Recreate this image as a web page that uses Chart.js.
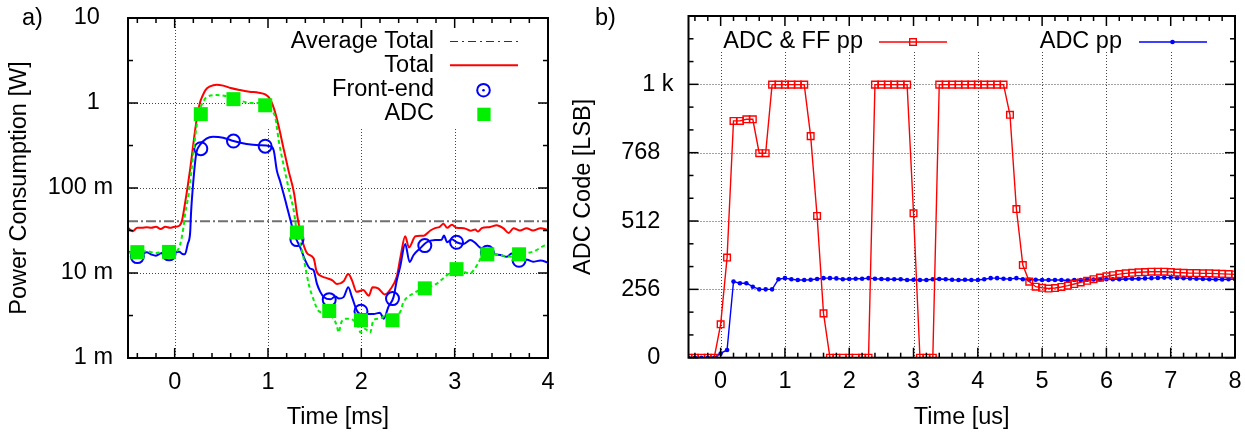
<!DOCTYPE html>
<html>
<head>
<meta charset="utf-8">
<script src="https://cdn.jsdelivr.net/npm/chart.js@4.4.1/dist/chart.umd.min.js"></script>
<style>
  html, body { margin: 0; padding: 0; background: #fff; }
  #wrap { position: relative; width: 1245px; height: 432px; overflow: hidden; background: #fff; }
  #ca { position: absolute; left: 0; top: 0; }
  #cb { position: absolute; left: 565px; top: 0; }
</style>
</head>
<body>
<div id="wrap">
  <canvas id="ca" width="565" height="432"></canvas>
  <canvas id="cb" width="680" height="432"></canvas>
</div>
<script>
// ---------- a) power consumption over time [ms], W on a log axis ----------
const avgTotalPower = 0.0405;

const totalTime = [-0.5,-0.45,-0.4,-0.35,-0.3,-0.25,-0.2,-0.15,-0.1,-0.05,0,0.05,0.08,0.11,0.14,0.17,0.2,0.23,0.27,0.3,0.33,0.38,0.45,0.52,0.6,0.7,0.8,0.9,0.97,1.02,1.05,1.08,1.12,1.17,1.22,1.28,1.31,1.36,1.42,1.49,1.52,1.58,1.63,1.69,1.74,1.81,1.86,1.9,1.95,2.02,2.08,2.12,2.18,2.25,2.31,2.38,2.42,2.47,2.51,2.58,2.67,2.74,2.79,2.84,2.88,2.92,2.97,3.02,3.1,3.17,3.22,3.25,3.29,3.38,3.45,3.52,3.58,3.63,3.7,3.77,3.84,3.92,4.0];
const totalPower = [0.034,0.031,0.034,0.034,0.0345,0.034,0.035,0.033,0.035,0.034,0.035,0.036,0.042,0.065,0.105,0.18,0.33,0.58,1.0,1.22,1.42,1.57,1.64,1.6,1.5,1.42,1.36,1.32,1.26,1.12,0.95,0.75,0.5,0.28,0.16,0.086,0.05,0.026,0.017,0.0148,0.0105,0.0091,0.0087,0.0082,0.0074,0.008,0.0097,0.0082,0.006,0.0063,0.0054,0.0068,0.0066,0.0056,0.0064,0.0091,0.0155,0.027,0.02,0.027,0.0275,0.0316,0.0337,0.035,0.038,0.034,0.037,0.034,0.0337,0.0315,0.0325,0.0307,0.0337,0.0348,0.0365,0.0337,0.0296,0.0337,0.0316,0.0337,0.0316,0.0337,0.032];

const feTime = [-0.5,-0.45,-0.4,-0.35,-0.3,-0.25,-0.2,-0.15,-0.1,-0.05,0,0.05,0.08,0.11,0.14,0.166,0.175,0.2,0.23,0.27,0.34,0.41,0.52,0.63,0.77,0.91,1.02,1.06,1.095,1.13,1.166,1.2,1.24,1.276,1.31,1.345,1.4,1.45,1.488,1.524,1.56,1.6,1.67,1.72,1.76,1.81,1.86,1.9,1.953,1.99,2.09,2.13,2.2,2.24,2.29,2.345,2.38,2.416,2.47,2.517,2.56,2.63,2.7,2.79,2.86,2.885,2.92,2.97,3.02,3.096,3.167,3.22,3.27,3.33,3.38,3.43,3.49,3.56,3.61,3.67,3.72,3.78,3.84,3.92,4.0];
const fePower = [0.018,0.017,0.0155,0.0165,0.0175,0.0165,0.016,0.017,0.0175,0.0165,0.0175,0.0178,0.0168,0.0166,0.022,0.03,0.05,0.12,0.25,0.32,0.38,0.4,0.39,0.357,0.33,0.318,0.31,0.28,0.16,0.12,0.086,0.062,0.042,0.03,0.024,0.02,0.014,0.0113,0.0108,0.0075,0.006,0.0052,0.0049,0.0053,0.005,0.0052,0.0068,0.0052,0.0036,0.0033,0.0033,0.0033,0.0034,0.0029,0.004,0.0052,0.0082,0.0118,0.022,0.0135,0.0163,0.0195,0.023,0.0244,0.0246,0.0276,0.023,0.025,0.023,0.022,0.0244,0.0226,0.02,0.0186,0.0177,0.0166,0.0163,0.0155,0.017,0.0143,0.0145,0.0143,0.0136,0.014,0.0133];

const adcTime = [-0.5,-0.45,-0.4,-0.3,-0.2,-0.1,-0.05,0.02,0.06,0.095,0.11,0.15,0.185,0.22,0.255,0.3,0.34,0.45,0.55,0.63,0.72,0.81,0.95,1.04,1.08,1.115,1.17,1.24,1.275,1.31,1.363,1.4,1.435,1.49,1.54,1.6,1.667,1.738,1.755,1.79,1.845,1.916,1.97,1.99,2.04,2.095,2.13,2.2,2.27,2.33,2.417,2.45,2.55,2.68,2.81,2.89,3.02,3.16,3.25,3.32,3.45,3.6,3.7,3.85,3.96,4.0];
const adcPower = [0.0175,0.0172,0.0176,0.018,0.0172,0.0178,0.0177,0.018,0.022,0.035,0.048,0.085,0.18,0.4,0.75,1.0,1.17,1.24,1.2,1.11,1.05,1.0,1.0,0.82,0.66,0.36,0.18,0.08,0.055,0.03,0.0186,0.0118,0.0075,0.0048,0.0036,0.0034,0.0032,0.0024,0.002,0.0027,0.0029,0.00278,0.0023,0.002,0.0022,0.002,0.0028,0.0029,0.0032,0.003,0.0035,0.0045,0.0057,0.0066,0.0075,0.0089,0.0111,0.0099,0.0129,0.0176,0.0165,0.0156,0.0166,0.018,0.021,0.0215];

// sampled operating points shown with markers
const sampleTime = [-0.4,-0.06,0.28,0.63,0.97,1.31,1.656,1.996,2.334,2.68,3.02,3.35,3.69];
const feSamplePower = [0.0156,0.0168,0.29,0.357,0.31,0.0247,0.00486,0.00355,0.005,0.021,0.023,0.0175,0.0141];
const adcSamplePower = [0.0176,0.0177,0.74,1.11,0.94,0.03,0.00357,0.00278,0.00278,0.0066,0.0111,0.0166,0.0166];

const xTicksA = [0, 1, 2, 3, 4];
const yTicksA = [0.001, 0.01, 0.1, 1, 10];
const yTickLabelsA = ['1 m', '10 m', '100 m', '1  ', '10  '];
const keyLabelsA = ['Average Total', 'Total', 'Front-end', 'ADC'];

// ---------- b) ADC output code over time [us] ----------
const codeTime = [-0.5,-0.4,-0.3,-0.2,-0.1,0,0.1,0.2,0.3,0.4,0.5,0.6,0.7,0.8,0.9,1,1.1,1.2,1.3,1.4,1.5,1.6,1.7,1.8,1.9,2,2.1,2.2,2.3,2.4,2.5,2.6,2.7,2.8,2.9,3,3.1,3.2,3.3,3.4,3.5,3.6,3.7,3.8,3.9,4,4.1,4.2,4.3,4.4,4.5,4.6,4.7,4.8,4.9,5,5.1,5.2,5.3,5.4,5.5,5.6,5.7,5.8,5.9,6,6.1,6.2,6.3,6.4,6.5,6.6,6.7,6.8,6.9,7,7.1,7.2,7.3,7.4,7.5,7.6,7.7,7.8,7.9,8];
const adcFfCode = [0,0,0,0,0,125,375,887,887,893,893,766,766,1023,1023,1023,1023,1023,1023,830,531,166,0,0,0,0,0,0,0,1023,1023,1023,1023,1023,1023,541,0,0,0,1023,1023,1023,1023,1023,1023,1023,1023,1023,1023,1023,910,557,347,285,266,262,259,261,265,270,276,282,288,294,300,305,309,313,316,318,320,321,322,322,322,321,319,318,317,317,316,316,315,314,313,312];
const adcCode = [0,0,0,0,0,16,29,285,279,279,266,256,256,256,294,298,294,291,291,292,295,298,298,297,294,295,296,296,298,296,295,294,294,294,291,292,291,291,294,295,294,292,291,292,291,291,294,298,298,296,295,298,294,292,292,291,291,291,291,289,291,291,292,293,293,294,294,294,295,296,296,297,298,299,300,300,299,298,297,296,295,294,293,293,294,295];

const xTicksB = [0, 1, 2, 3, 4, 5, 6, 7, 8];
const yTicksB = [0, 256, 512, 768, 1024];
const yTickLabelsB = ['0  ', '256  ', '512  ', '768  ', '1 k'];
const keyLabelsB = ['ADC & FF pp', 'ADC pp'];

// ---------- shared styling ----------
const FAMILY = '"Liberation Sans", Arial, Helvetica, sans-serif';
const FONT = { family: FAMILY, size: 23.5 };
const FONT_CSS = '23.5px ' + FAMILY;
const RED = '#ff0000', BLUE = '#0000ff', GREEN = '#00f000';
Chart.defaults.font.family = FAMILY;
Chart.defaults.color = '#000';

const pts = (xs, ys) => xs.map((x, i) => ({ x: x, y: ys[i] }));
function seg(ctx, x0, y0, x1, y1) { ctx.beginPath(); ctx.moveTo(x0, y0); ctx.lineTo(x1, y1); ctx.stroke(); }
function stepValues(from, to, step, skip) {
  const out = [];
  for (let v = from; v <= to + 1e-9; v += step) {
    const r = Math.round(v * 1000) / 1000;
    if (!skip(r)) out.push(r);
  }
  return out;
}

// grid (under the data), key box, inward tics on all four sides, border and key
function framePlugin(o) {
  return {
    id: 'frame',
    beforeDatasetsDraw(chart) {
      const { ctx, chartArea: a, scales: { x, y } } = chart;
      ctx.save();
      ctx.strokeStyle = '#444';
      ctx.lineWidth = 1;
      ctx.setLineDash([1, 2]);
      o.gridX.forEach(v => { const p = Math.round(x.getPixelForValue(v)) + 0.5; seg(ctx, p, a.top, p, a.bottom); });
      o.gridY.forEach(v => { const p = Math.round(y.getPixelForValue(v)) + 0.5; seg(ctx, a.left, p, a.right, p); });
      ctx.setLineDash([]);
      ctx.fillStyle = '#fff';
      const k = o.keyBox(a);
      ctx.fillRect(k.x0, a.top + 1, k.x1 - k.x0, k.y1 - a.top - 1);
      ctx.restore();
    },
    afterDatasetsDraw(chart) {
      const { ctx, chartArea: a, scales: { x, y } } = chart;
      ctx.save();
      ctx.strokeStyle = '#000';
      ctx.lineWidth = 1.5;
      const tx = (vals, len) => vals.forEach(v => {
        const p = x.getPixelForValue(v);
        seg(ctx, p, a.bottom, p, a.bottom - len); seg(ctx, p, a.top, p, a.top + len);
      });
      const ty = (vals, len) => vals.forEach(v => {
        const p = y.getPixelForValue(v);
        seg(ctx, a.left, p, a.left + len, p); seg(ctx, a.right, p, a.right - len, p);
      });
      tx(o.majorX, 10); tx(o.minorX, 5);
      ty(o.majorY, 10); ty(o.minorY, 5);
      ctx.lineWidth = 2;
      ctx.strokeRect(a.left, a.top, a.right - a.left, a.bottom - a.top);
      ctx.font = FONT_CSS;
      ctx.fillStyle = '#000';
      ctx.textBaseline = 'middle';
      o.drawKey(ctx);
      ctx.textAlign = 'left';
      ctx.fillStyle = '#000';
      ctx.fillText(o.panel.text, o.panel.x, o.panel.y);
      ctx.restore();
    }
  };
}

// the gap between frame and tick labels comes from invisible tick marks,
// so that ticks.padding does not pad the plot area as well
function baseOptions(o) {
  const hiddenTicks = len => ({ display: true, drawOnChartArea: false, drawTicks: true,
                                tickLength: len, color: 'rgba(0,0,0,0)', tickColor: 'rgba(0,0,0,0)' });
  return {
    responsive: false,
    animation: false,
    devicePixelRatio: 1,
    layout: { autoPadding: false, padding: { left: 0, top: o.top, right: o.right, bottom: 0 } },
    plugins: { legend: { display: false }, tooltip: { enabled: false } },
    scales: {
      x: {
        type: 'linear', min: o.xMin, max: o.xMax,
        grid: hiddenTicks(10), border: { display: false },
        afterBuildTicks: s => { s.ticks = o.xTicks.map(v => ({ value: v })); },
        afterFit: s => { s.height = s.chart.$xh || 74; },
        ticks: { font: FONT, color: '#000', padding: 0, maxRotation: 0, autoSkip: false,
                 callback: v => String(v) },
        title: { display: true, text: o.xTitle, font: FONT, color: '#000', padding: { top: 0, bottom: 0 } }
      },
      y: {
        type: o.yType, min: o.yMin, max: o.yMax,
        grid: hiddenTicks(15), border: { display: false },
        afterBuildTicks: s => { s.ticks = o.yTicks.map(v => ({ value: v })); },
        afterFit: s => { s.width = s.chart.$yw || o.yWidth; },
        ticks: { font: FONT, color: '#000', padding: 0, autoSkip: false,
                 callback: v => o.yLabels[o.yTicks.indexOf(v)] },
        title: { display: true, text: o.yTitle, font: FONT, color: '#000', padding: { top: o.yTitlePad, bottom: 0 } }
      }
    }
  };
}

// nudge the layout until the plot frame sits on the wanted edges
function pinArea(chart, opts, want) {
  chart.$yw = want.left; chart.$xh = chart.height - want.bottom;
  for (let i = 0; i < 4; i++) {
    chart.update();
    const a = chart.chartArea, p = opts.layout.padding;
    const dt = a.top - want.top, dl = a.left - want.left, dr = want.right - a.right, db = a.bottom - want.bottom;
    if (Math.abs(dt) < 0.2 && Math.abs(dl) < 0.2 && Math.abs(dr) < 0.2 && Math.abs(db) < 0.2) break;
    p.top = Math.max(0, p.top - dt); chart.$yw -= dl; p.right = Math.max(0, p.right + dr); chart.$xh += db;
  }
}

// ---------- chart a ----------
const optsA = baseOptions({
  top: 18, right: 17, xMin: -0.5, xMax: 4, xTicks: xTicksA, xTitle: 'Time [ms]',
  yType: 'logarithmic', yMin: 0.001, yMax: 10, yTicks: yTicksA, yLabels: yTickLabelsA,
  yWidth: 128, yTitle: 'Power Consumption [W]', yTitlePad: 5
});
const chartA = new Chart(document.getElementById('ca'), {
  type: 'line',
  data: {
    datasets: [
      { label: 'ADC', data: pts(sampleTime, adcSamplePower), showLine: false,
        pointStyle: 'rect', pointRadius: 9.9, pointBorderWidth: 0,
        pointBackgroundColor: GREEN, pointBorderColor: GREEN },
      { label: 'ADC trace', data: pts(adcTime, adcPower), borderColor: GREEN, borderWidth: 2,
        borderDash: [4, 3], pointRadius: 0, cubicInterpolationMode: 'monotone' },
      { label: 'Front-end', data: pts(sampleTime, feSamplePower), showLine: false,
        pointStyle: 'circle', pointRadius: 6.5, pointBorderWidth: 2,
        pointBorderColor: BLUE, pointBackgroundColor: 'rgba(0,0,0,0)' },
      { label: 'Front-end trace', data: pts(feTime, fePower), borderColor: BLUE, borderWidth: 2,
        pointRadius: 0, cubicInterpolationMode: 'monotone' },
      { label: 'Total', data: pts(totalTime, totalPower), borderColor: RED, borderWidth: 2,
        pointRadius: 0, cubicInterpolationMode: 'monotone' },
      { label: 'Average Total', data: [{ x: -0.5, y: avgTotalPower }, { x: 4, y: avgTotalPower }],
        borderColor: '#707070', borderWidth: 2, borderDash: [10, 3, 2, 3], pointRadius: 0 }
    ]
  },
  options: optsA,
  plugins: [framePlugin({
    gridX: [0, 1, 2, 3],
    gridY: [0.01, 0.1, 1],
    majorX: xTicksA,
    minorX: stepValues(-0.4, 3.8, 0.2, v => Number.isInteger(v)),
    majorY: yTicksA,
    minorY: [0.00316, 0.0316, 0.316, 3.16],
    keyBox: a => ({ x0: 266, x1: 537, y1: 127 }),
    panel: { text: 'a)', x: 22, y: 19 },
    drawKey(ctx) {
      const rows = [41.5, 65.3, 89.2, 113.1];
      ctx.textAlign = 'right';
      keyLabelsA.forEach((t, i) => ctx.fillText(t, 434, rows[i]));
      ctx.strokeStyle = '#333'; ctx.lineWidth = 1.2; ctx.setLineDash([8, 4, 2, 4]);
      seg(ctx, 450, rows[0], 518, rows[0]);
      ctx.setLineDash([]);
      ctx.strokeStyle = RED; ctx.lineWidth = 2;
      seg(ctx, 450, rows[1], 518, rows[1]);
      ctx.strokeStyle = BLUE; ctx.lineWidth = 2;
      ctx.beginPath(); ctx.arc(483.5, rows[2] + 1, 6.3, 0, Math.PI * 2); ctx.stroke();
      ctx.fillStyle = BLUE;
      ctx.beginPath(); ctx.arc(483.5, rows[2] + 1, 1.3, 0, Math.PI * 2); ctx.fill();
      ctx.fillStyle = GREEN;
      ctx.fillRect(477.3, rows[3] + 1.2 - 6.6, 13.3, 13.3);
    }
  })]
});
pinArea(chartA, optsA, { left: 128, right: 548, top: 18, bottom: 358 });

// ---------- chart b ----------
const optsB = baseOptions({
  top: 16, right: 10, xMin: -0.5, xMax: 8, xTicks: xTicksB, xTitle: 'Time [us]',
  yType: 'linear', yMin: 0, yMax: 1280, yTicks: yTicksB, yLabels: yTickLabelsB,
  yWidth: 123.5, yTitle: 'ADC Code [LSB]', yTitlePad: 4
});
const chartB = new Chart(document.getElementById('cb'), {
  type: 'line',
  data: {
    datasets: [
      { label: 'ADC & FF pp', data: pts(codeTime, adcFfCode), borderColor: RED, borderWidth: 1.4,
        pointStyle: 'rect', pointRadius: 4.7, pointBorderWidth: 1.4,
        pointBorderColor: RED, pointBackgroundColor: 'rgba(0,0,0,0)', tension: 0 },
      { label: 'ADC pp', data: pts(codeTime, adcCode), borderColor: BLUE, borderWidth: 1.4,
        pointStyle: 'circle', pointRadius: 2.3, pointBorderWidth: 0,
        pointBackgroundColor: BLUE, pointBorderColor: BLUE, tension: 0 }
    ]
  },
  options: optsB,
  plugins: [framePlugin({
    gridX: [0, 1, 2, 3, 4, 5, 6, 7],
    gridY: [256, 512, 768, 1024],
    majorX: xTicksB,
    minorX: stepValues(-0.4, 7.8, 0.2, v => Number.isInteger(v)),
    majorY: yTicksB,
    minorY: stepValues(0, 1280, 256 / 3, v => Math.abs(v / 256 - Math.round(v / 256)) < 1e-6),
    keyBox: a => ({ x0: a.left + 1, x1: a.right - 1, y1: 52 }),
    panel: { text: 'b)', x: 30, y: 19 },
    drawKey(ctx) {
      const row = 42;
      ctx.textAlign = 'right';
      ctx.fillText(keyLabelsB[0], 298, row);
      ctx.fillText(keyLabelsB[1], 557, row);
      ctx.strokeStyle = RED; ctx.lineWidth = 1.4;
      seg(ctx, 314, row, 382, row);
      ctx.strokeRect(348 - 3.3, row - 3.3, 6.6, 6.6);
      ctx.strokeStyle = BLUE;
      seg(ctx, 574, row, 642, row);
      ctx.fillStyle = BLUE;
      ctx.beginPath(); ctx.arc(607.5, row, 2.3, 0, Math.PI * 2); ctx.fill();
    }
  })]
});
pinArea(chartB, optsB, { left: 123.5, right: 670, top: 16.2, bottom: 357.7 });
</script>
</body>
</html>
